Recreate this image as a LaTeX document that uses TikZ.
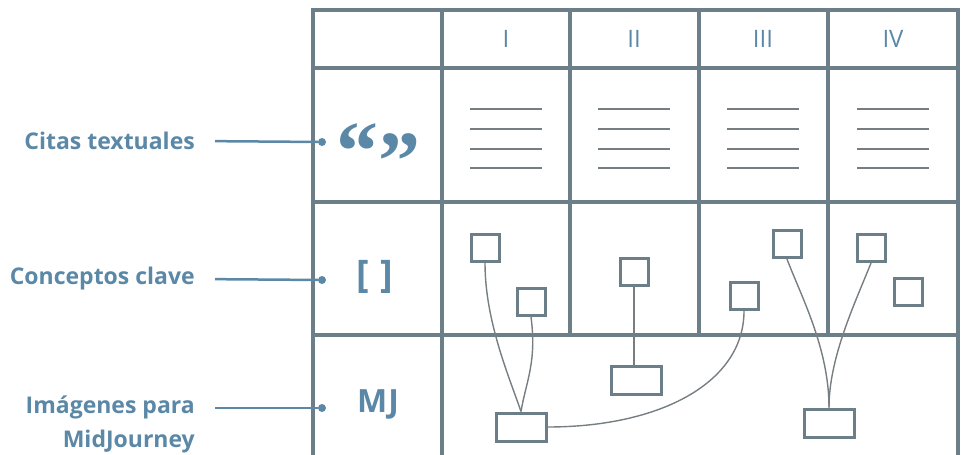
\documentclass[tikz,border=0pt]{standalone}
\usepackage{fontspec}
\setmainfont{Open Sans}
\newfontfamily\quofont{Liberation Serif}
\definecolor{tgrey}{RGB}{108,126,136}
\definecolor{tblue}{RGB}{90,136,166}
\definecolor{lgrey}{RGB}{118,126,130}

\begin{document}
\begin{tikzpicture}[x=1pt,y=-1pt]
  \tikzstyle{grid}=[draw=tgrey,line width=4pt]
  \tikzstyle{txt}=[draw=lgrey,line width=2pt]
  \tikzstyle{sq}=[draw=tgrey,line width=3pt,minimum width=28pt,minimum height=27pt,inner sep=0]
  \tikzstyle{wide}=[sq,minimum width=50pt,minimum height=28pt]
  \tikzstyle{link}=[draw=lgrey,line width=1.4pt]
  \tikzstyle{num}=[text=tblue,font=\fontsize{24}{26}\selectfont]
  \tikzstyle{lab}=[text=tblue,font=\bfseries\fontsize{23}{34}\selectfont,inner sep=0,anchor=east,align=right]
  \tikzstyle{icon}=[text=tblue,inner sep=0]
  \tikzstyle{quo}=[icon,anchor=north,font=\quofont\bfseries\fontsize{84}{84}\selectfont]
  \tikzstyle{pin}=[circle,fill=tblue,inner sep=0,minimum size=8pt]
  \tikzstyle{lead}=[draw=tblue,line width=2.5pt,shorten <=20pt]
  \useasboundingbox (0,0) rectangle (961,455);
  \draw[grid] (313,455) -- (313,10) -- (958,10) -- (958,455);
  \draw[grid] (313,68) -- (958,68) (313,202) -- (958,202) (313,335) -- (958,335);
  \draw[grid] (442,10) -- (442,455);
  \foreach \x in {570,699,828} \draw[grid] (\x,10) -- (\x,335);
  \foreach \n/\x in {I/506,II/634,III/763,IV/893} \node[num] at (\x,39) {\n};
  \foreach \x in {506,634,763,893}
    \foreach \y in {109,129,149,168} \draw[txt] (\x-36,\y) -- (\x+36,\y);
  \node[quo] (qopen) at (357,123) {“};
  \node[quo] (qclose) at (399,133) {”};
  \node[icon,font=\bfseries\fontsize{38}{38}\selectfont] (brk) at (375,277) {[\hspace{11pt}]};
  \node[icon,font=\bfseries\fontsize{32}{32}\selectfont] (mj) at (378,404) {M\kern1ptJ};
  \node[pin] (p1) at (322,142) {};
  \node[pin] (p2) at (322,280) {};
  \node[pin] (p3) at (322,408) {};
  \node[lab] (citas) at (195,141) {Citas textuales};
  \node[lab] (conc) at (195,279) {Conceptos clave};
  \node[lab] (imag) at (195,424) {Imágenes para\\MidJourney};
  \draw[lead] (citas.east) -- (p1);
  \draw[lead] (conc.east) -- (p2);
  \draw[lead] (imag.east |- p3) -- (p3);
  \node[sq] (i1) at (485,248) {};
  \node[sq] (i2) at (531,302) {};
  \node[sq] (ii1) at (634,272) {};
  \node[sq] (iii1) at (744,296) {};
  \node[sq] (iii2) at (787,244) {};
  \node[sq] (iv1) at (871,248) {};
  \node[sq] (iv2) at (908,292) {};
  \node[wide] (mj1) at (521,427) {};
  \node[wide] (mj2) at (636,380) {};
  \node[wide] (mj3) at (829,423) {};
  \draw[link] (i1.south) .. controls +(0,58) and +(-12,-35) .. (mj1.north);
  \draw[link] (i2.south) .. controls +(6,45) and +(5,-30) .. (mj1.north);
  \draw[link] (ii1.south) -- (ii1.south |- mj2.north);
  \draw[link] (mj1.east) .. controls +(114,0) and +(0,71) .. (iii1.south);
  \draw[link] (iii2.south) .. controls +(13,35) and +(0,-60) .. (mj3.north);
  \draw[link] (iv1.south) .. controls +(-16,40) and +(0,-50) .. (mj3.north);
\end{tikzpicture}
\end{document}
